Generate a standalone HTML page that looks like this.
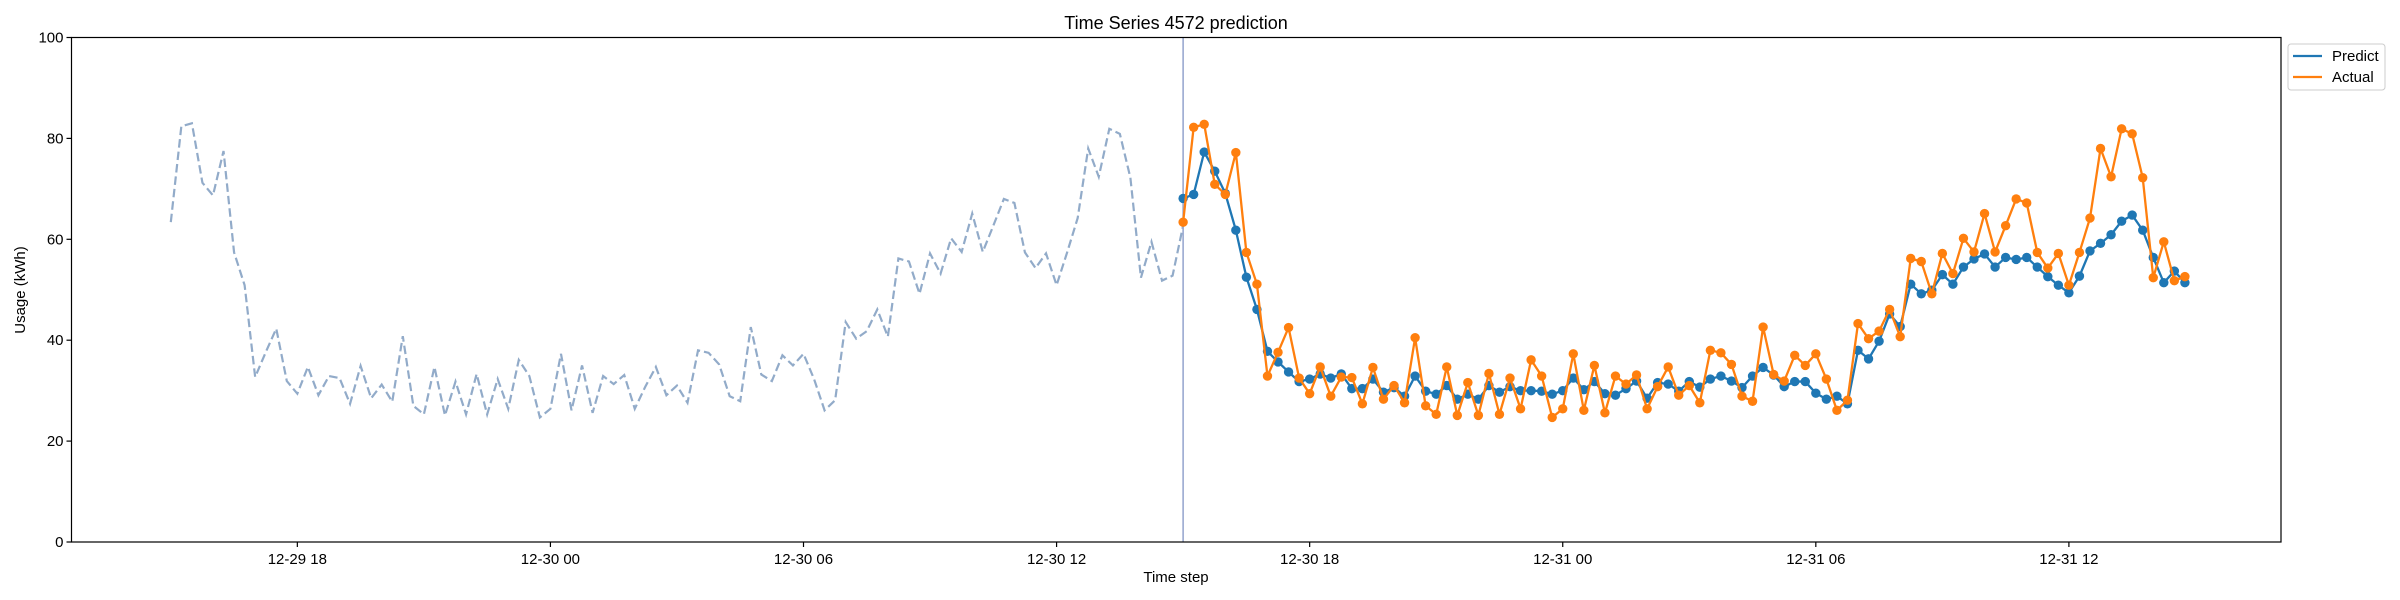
<!DOCTYPE html>
<html><head><meta charset="utf-8"><style>
html,body{margin:0;padding:0;background:#fff;}
svg{display:block;font-family:"Liberation Sans",sans-serif;}
</style></head><body>
<svg id="chart" width="2400" height="600" viewBox="0 0 2400 600" xmlns="http://www.w3.org/2000/svg">
<rect width="2400" height="600" fill="#fff"/>
<text x="1176" y="29" font-size="18" text-anchor="middle">Time Series 4572 prediction</text>
<g id="plot"></g>
<text x="1176" y="582" font-size="15" text-anchor="middle">Time step</text>
<text x="0" y="0" font-size="15" text-anchor="middle" transform="translate(25,290) rotate(-90)">Usage (kWh)</text>
<g>
<rect x="2288" y="44" width="97" height="46" rx="3" fill="#fff" stroke="#ccc" stroke-width="1"/>
<g><line x1="2293" y1="56" x2="2322" y2="56" stroke="#1f77b4" stroke-width="2.3"/><text x="2332" y="61" font-size="15">Predict</text></g>
<g><line x1="2293" y1="77" x2="2322" y2="77" stroke="#ff7f0e" stroke-width="2.3"/><text x="2332" y="82" font-size="15">Actual</text></g>
</g>
</svg>
<script>
const history = [63.4,82.4,83.0,71.2,68.7,77.5,57.4,50.9,32.7,37.6,42.3,31.9,29.4,34.7,29.1,32.9,32.5,27.4,34.9,28.5,31.2,27.8,40.8,27.0,25.3,34.7,25.1,31.8,25.3,33.3,25.3,32.3,26.4,36.1,32.9,24.7,26.4,37.3,26.1,35.0,25.6,32.9,31.3,33.1,26.4,30.8,34.7,29.1,31.0,27.6,38.0,37.5,35.2,28.9,27.9,42.6,33.2,31.9,37.0,35.0,37.3,32.3,26.1,28.1,43.6,40.3,41.8,46.1,40.7,56.2,55.6,49.2,57.2,53.2,60.2,57.5,65.1,57.5,62.7,68.0,67.2,57.4,54.3,57.2,50.9,57.4,64.2,78.0,72.4,81.9,80.9,72.2,52.4,59.5,51.8,52.8,62.7];
const actual = [63.4,82.2,82.8,70.9,68.9,77.2,57.4,51.1,32.9,37.6,42.5,32.5,29.4,34.7,28.9,32.7,32.6,27.4,34.6,28.3,31.0,27.6,40.5,27.0,25.3,34.7,25.1,31.6,25.1,33.4,25.3,32.5,26.4,36.1,32.9,24.7,26.4,37.3,26.1,35.0,25.6,32.9,31.3,33.1,26.4,30.8,34.7,29.1,31.0,27.6,38.0,37.5,35.2,28.9,27.9,42.6,33.2,31.9,37.0,35.0,37.3,32.3,26.1,28.1,43.3,40.3,41.8,46.1,40.7,56.2,55.6,49.2,57.2,53.2,60.2,57.5,65.1,57.5,62.7,68.0,67.2,57.4,54.3,57.2,50.9,57.4,64.2,78.0,72.4,81.9,80.9,72.2,52.4,59.5,51.8,52.6];
const predict = [68.1,68.9,77.3,73.5,69.1,61.8,52.5,46.1,37.8,35.7,33.7,31.8,32.3,33.3,32.5,33.3,30.4,30.4,32.3,29.7,30.6,28.9,32.9,29.9,29.3,31.0,28.3,29.3,28.3,31.0,29.7,30.8,30.0,30.0,29.9,29.3,30.0,32.5,30.2,31.8,29.4,29.1,30.4,31.9,28.5,31.6,31.3,29.9,31.8,30.7,32.3,32.9,31.9,30.6,32.9,34.6,33.1,30.8,31.8,31.8,29.5,28.3,28.9,27.4,38.0,36.3,39.8,45.2,42.7,51.1,49.2,49.9,53.0,51.1,54.5,56.1,57.1,54.5,56.4,56.0,56.4,54.5,52.6,50.9,49.4,52.7,57.7,59.2,60.9,63.6,64.8,61.8,56.4,51.4,53.7,51.4];
const yTicks = [0,20,40,60,80,100];
const xTickLabels = ["12-29 18","12-30 00","12-30 06","12-30 12","12-30 18","12-31 00","12-31 06","12-31 12"];
const xTickHours = [3,9,15,21,27,33,39,45]; // hours after 12-29 15:00
const historyStartHour = 0, forecastStartHour = 24, stepHours = 0.25;

const L=71.5,R=2281,T=37.5,B=542;
const pxPerHour = 42.18, x0 = 170.8;
const X = h => x0 + h*pxPerHour;
const Y = v => B - (v/100)*(B-T);
const NS="http://www.w3.org/2000/svg";
const g=document.getElementById('plot');
function mk(tag,attrs,parent){const e=document.createElementNS(NS,tag);for(const k in attrs)e.setAttribute(k,attrs[k]);(parent||g).appendChild(e);return e;}

// history
const hp = history.map((v,i)=>X(historyStartHour+i*stepHours).toFixed(2)+','+Y(v).toFixed(2)).join(' ');
const hl = mk('polyline',{points:hp,fill:'none',stroke:'#92abc9','stroke-width':2.2,'stroke-dasharray':'8.5,4'});



// forecast start line
const vx = X(forecastStartHour);
const vl = mk('line',{x1:vx,x2:vx,y1:T,y2:B,stroke:'#9aa9d0','stroke-width':1.6});



function series(arr,color,name){
  const grp=mk('g',{});
  
  
  const pts=arr.map((v,i)=>X(forecastStartHour+i*stepHours).toFixed(2)+','+Y(v).toFixed(2)).join(' ');
  const pl=mk('polyline',{points:pts,fill:'none',stroke:color,'stroke-width':2.3,'stroke-linejoin':'round'},grp);
  
  
  arr.forEach((v,i)=>{
    const c=mk('circle',{cx:X(forecastStartHour+i*stepHours),cy:Y(v),r:4.7,fill:color},grp);
    
    
  });
}
series(predict,'#1f77b4','predict');
series(actual,'#ff7f0e','actual');

// axes frame
const fr = mk('rect',{x:L,y:T,width:R-L,height:B-T,fill:'none',stroke:'#000','stroke-width':1.2});



yTicks.forEach(t=>{
  const y=Y(t);
  const tl=mk('line',{x1:L-5,x2:L,y1:y,y2:y,stroke:'#000','stroke-width':1.2});
  
  
  const tx=mk('text',{x:L-8,y:y+5,'font-size':15,'text-anchor':'end'});
  tx.textContent=t;
  
  
});
xTickHours.forEach((h,i)=>{
  const x=X(h);
  const tl=mk('line',{x1:x,x2:x,y1:B,y2:B+5,stroke:'#000','stroke-width':1.2});
  
  
  const tx=mk('text',{x:x,y:B+22,'font-size':15,'text-anchor':'middle'});
  tx.textContent=xTickLabels[i];
  
  
});
</script>
</body></html>
